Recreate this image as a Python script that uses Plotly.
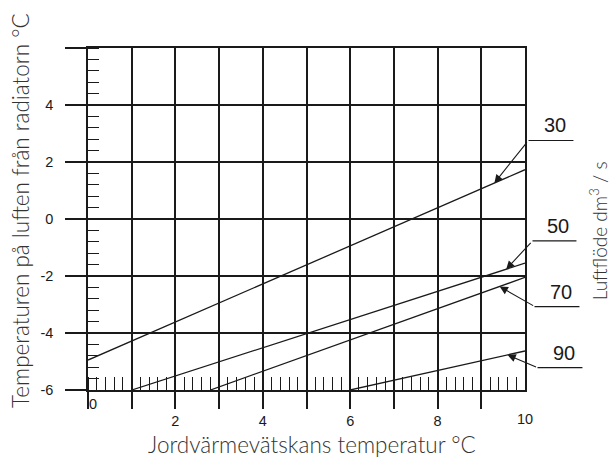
import plotly.graph_objects as go

# ---- data ----
flow_labels = ["30", "50", "70", "90"]
line_x = [[0, 10], [1, 10], [2.8, 10], [6, 10]]
line_y = [[-4.95, 1.73], [-6, -1.55], [-6, -2.05], [-6, -4.63]]
arrow_tip_x = [9.30, 9.57, 9.42, 9.60]

x_tickvals = list(range(0, 10))
x_ticktext = ["", "", "2", "", "4", "", "6", "", "8", ""]
y_tickvals = [-6, -4, -2, 0, 2, 4, 6]
y_ticktext = ["-6", "-4", "-2", "0", "2", "4", ""]

# ---- geometry (pixels of plot area) ----
W, H = 612, 459
L, R, T, B = 88, 525.5, 48.3, 390.0


def xp(px):
    return (px - L) / (R - L)


def yp(py):
    return (B - py) / (B - T)


INK = "#1a1a1a"
fig = go.Figure()
for xs, ys in zip(line_x, line_y):
    fig.add_trace(go.Scatter(x=xs, y=ys, mode="lines",
                             line=dict(color=INK, width=1.3),
                             showlegend=False, hoverinfo="skip"))

# leader geometry (pixel offsets / positions)
tail_off = [(34, -42.6), (26, -28), (35, 20), (30, 12.7)]
bend_px = [(529, 140.7), (533, 241), (535, 306.7), (538, 367.7)]
hend_px = [574, 577, 580, 583]

annotations = []
shapes = []
for i, lab in enumerate(flow_labels):
    xs, ys = line_x[i], line_y[i]
    tx = arrow_tip_x[i]
    ty = ys[0] + (ys[1] - ys[0]) * (tx - xs[0]) / (xs[1] - xs[0])
    annotations.append(dict(x=tx, y=ty, xref="x", yref="y", text=" ",
                            showarrow=True, ax=tail_off[i][0], ay=tail_off[i][1],
                            arrowhead=2, arrowsize=1.5, arrowwidth=1.1,
                            arrowcolor=INK, standoff=0, startstandoff=0,
                            font=dict(size=1)))
    bx, by = bend_px[i]
    shapes.append(dict(type="line", xref="paper", yref="paper",
                       x0=xp(bx), y0=yp(by), x1=xp(hend_px[i]), y1=yp(by),
                       line=dict(color=INK, width=1.2)))
    annotations.append(dict(x=xp((bx + hend_px[i]) / 2 + 4), y=yp(by - 2),
                            xref="paper", yref="paper", text=lab,
                            showarrow=False, yanchor="bottom", xanchor="center",
                            font=dict(family="Liberation Sans, Arial", size=20,
                                      color=INK)))

title_font = dict(family="Lato, Noto Sans, sans-serif", size=22.5,
                  color="#333333", weight=300)
annotations += [
    dict(text="Temperaturen på luften från radiatorn °C", textangle=-90,
         x=xp(21), y=yp(211), xref="paper", yref="paper", showarrow=False,
         xanchor="center", yanchor="middle", font=title_font),
    dict(text="Jordvärmevätskans temperatur °C",
         x=xp(312), y=yp(444), xref="paper", yref="paper", showarrow=False,
         xanchor="center", yanchor="middle", font=title_font),
    dict(text="Luftflöde dm<sup>3</sup> / s", textangle=-90,
         x=xp(599), y=yp(231), xref="paper", yref="paper", showarrow=False,
         xanchor="center", yanchor="middle",
         font=dict(family="Lato, Noto Sans, sans-serif", size=19,
                   color="#333333", weight=300)),
    dict(text="0", x=xp(93), y=yp(404), xref="paper", yref="paper",
         showarrow=False, xanchor="center", yanchor="middle",
         font=dict(family="Liberation Sans, Arial", size=14.5, color=INK)),
    dict(text="10", x=10, y=yp(419), xref="x", yref="paper",
         showarrow=False, xanchor="center", yanchor="middle",
         font=dict(family="Liberation Sans, Arial", size=14.5, color=INK)),
]

tick_font = dict(family="Liberation Sans, Arial", size=14.5, color=INK)
fig.update_layout(
    width=W, height=H,
    margin=dict(l=L, r=W - R, t=T, b=H - B, pad=0),
    paper_bgcolor="white", plot_bgcolor="white",
    showlegend=False,
    annotations=annotations, shapes=shapes,
    xaxis=dict(range=[0, 10], tickmode="array", tickvals=x_tickvals,
               ticktext=x_ticktext, showgrid=True, gridcolor=INK, gridwidth=1.6,
               zeroline=False, showline=True, mirror=True, linecolor=INK,
               linewidth=1.6, ticks="outside", ticklen=17, tickwidth=1.6,
               tickcolor=INK, tickfont=tick_font, ticklabelstandoff=0,
               minor=dict(ticks="inside", dtick=0.2, tick0=0, ticklen=13,
                          tickwidth=1.3, tickcolor=INK, showgrid=False),
               fixedrange=True),
    yaxis=dict(range=[-6, 6], tickmode="array", tickvals=y_tickvals,
               ticktext=y_ticktext, showgrid=True, gridcolor=INK, gridwidth=1.6,
               zeroline=False, showline=True, mirror=True, linecolor=INK,
               linewidth=1.6, ticks="outside", ticklen=21, tickwidth=1.6,
               tickcolor=INK, tickfont=tick_font, ticklabelstandoff=9,
               minor=dict(ticks="inside", dtick=0.4, tick0=-6, ticklen=11,
                          tickwidth=1.3, tickcolor=INK, showgrid=False),
               fixedrange=True),
)

fig.write_html("out.html")
